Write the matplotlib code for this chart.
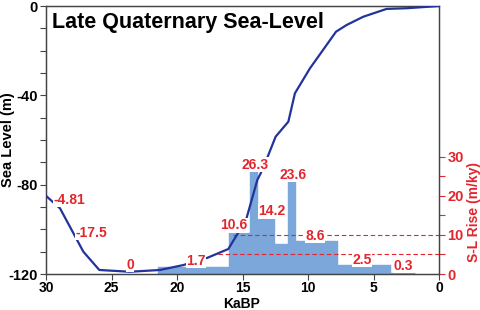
import matplotlib
matplotlib.use("Agg")
import matplotlib.pyplot as plt
from matplotlib.ticker import MultipleLocator, FixedLocator

plt.rcParams['font.family'] = ['Liberation Sans', 'DejaVu Sans']
plt.rcParams['font.weight'] = 'bold'

# Sea-level curve (KaBP, metres)
sl_age = [30, 28.93, 27.15, 25.93, 23.6, 21.3, 19.52, 17.66, 16.08, 15.44, 14.73,
          13.87, 13.61, 13.08, 12.47, 11.5, 11.0, 9.85, 7.86, 7.05, 5.78, 4.0, 2.47, 0]
sl_level = [-85, -90.6, -110, -118.2, -119, -118.2, -116, -112.7, -108.8, -102.6, -95.8,
            -77.9, -74.9, -67.5, -58.5, -51.8, -39.1, -27.9, -11.5, -8.5, -4.8, -1.3, -1.0, 0]

# Rise-rate bars (bin edges in KaBP, heights in m/ky)
bar_left = [21.45, 16.0, 14.43, 13.8, 12.52, 11.55, 10.94, 7.73, 3.66]
bar_right = [16.0, 14.43, 13.8, 12.52, 11.55, 10.94, 7.73, 3.66, 1.83]
bar_rate = [1.7, 10.5, 26.2, 14.4, 7.6, 23.7, 8.5, 2.3, 0.3]

# Rate annotations
lab_text = ["-4.81", "-17.5", "0", "1.7", "10.6", "26.3", "14.2", "23.6", "8.6", "2.5", "0.3"]
lab_age = [28.24, 26.56, 23.59, 18.55, 15.65, 14.05, 12.77, 11.12, 9.47, 5.85, 2.72]
lab_rate = [19.0, 10.6, 2.3, 3.4, 12.4, 27.9, 16.0, 25.4, 9.7, 3.6, 2.05]

# Reference rate lines
ref_rate = [10, 5]
ref_start = [15.75, 16.87]

x_ticks = [30, 25, 20, 15, 10, 5, 0]
y_ticks = [0, -40, -80, -120]
r_ticks = [0, 10, 20, 30]

RED = '#e3262d'
BLUE = '#22339c'
BAR = '#7ba7da'
SPINE = '#444444'

fig = plt.figure(figsize=(4.8, 3.1), dpi=100)
ax = fig.add_axes([46/480, 1-274/310, 393/480, 268/310])
ax2 = ax.twinx()
ax.set_zorder(ax2.get_zorder() + 1)
ax.patch.set_visible(False)

ax.set_xlim(30, 0)
ax.set_ylim(-120, 0)
ax2.set_ylim(0, 68.5)

# bars
widths = [l - r for l, r in zip(bar_left, bar_right)]
ax2.bar(bar_right, bar_rate, width=widths, align='edge', color=BAR,
        edgecolor=BAR, linewidth=0.3, zorder=2)
for r, s in zip(ref_rate, ref_start):
    ax2.plot([s, 0], [r, r], color=RED, linestyle=(0, (4, 2.5)), linewidth=0.8, zorder=3)

ax.plot(sl_age, sl_level, color=BLUE, linewidth=1.6, zorder=3, solid_joinstyle='round')

for t, xa, yr in zip(lab_text, lab_age, lab_rate):
    ax.text(xa, yr, t, transform=ax2.transData, color=RED, fontsize=10, fontweight='bold',
            ha='center', va='center', zorder=5,
            bbox=dict(facecolor='white', edgecolor='none', pad=0.3))

ax.text(0.015, 0.94, "Late Quaternary Sea-Level", transform=ax.transAxes, fontsize=15.5,
        fontweight='bold', ha='left', va='center', color='black', zorder=6)

TICK_FS = 10.5
ax.set_xticks(x_ticks)
ax.set_yticks(y_ticks)
ax.yaxis.set_minor_locator(MultipleLocator(10))
ax.set_xticklabels([str(v) for v in x_ticks], fontsize=10, fontweight='bold')
ax.set_yticklabels([str(v) for v in y_ticks], fontsize=TICK_FS, fontweight='bold')
ax.tick_params(axis='both', which='major', length=4, width=0.8, color=SPINE, pad=2)
ax.tick_params(axis='x', which='major', pad=1)
ax.tick_params(axis='y', which='minor', length=4, width=0.8, color=SPINE)

ax2.set_yticks(r_ticks)
ax2.set_yticklabels([str(v) for v in r_ticks], fontsize=TICK_FS, fontweight='bold', color=RED)
ax2.tick_params(axis='y', which='major', length=4, width=0.8, color=RED, pad=2)
ax2.yaxis.set_minor_locator(FixedLocator([5, 15, 25]))
ax2.tick_params(axis='y', which='minor', length=4, width=0.8, color=RED)

for a in (ax, ax2):
    for sp in a.spines.values():
        sp.set_color(SPINE)
        sp.set_linewidth(0.9)

fig.text(242/480, 1-304/310, "KaBP", color='black', fontsize=10,
         fontweight='bold', ha='center', va='center')
fig.text(8/480, 1-140/310, "Sea Level (m)", rotation=90, color='black', fontsize=10.5,
         fontweight='bold', ha='center', va='center')
fig.text(474/480, 1-212/310, "S-L Rise (m/ky)", rotation=90, color=RED, fontsize=10,
         fontweight='bold', ha='center', va='center')

fig.savefig("out.png", dpi=100)
